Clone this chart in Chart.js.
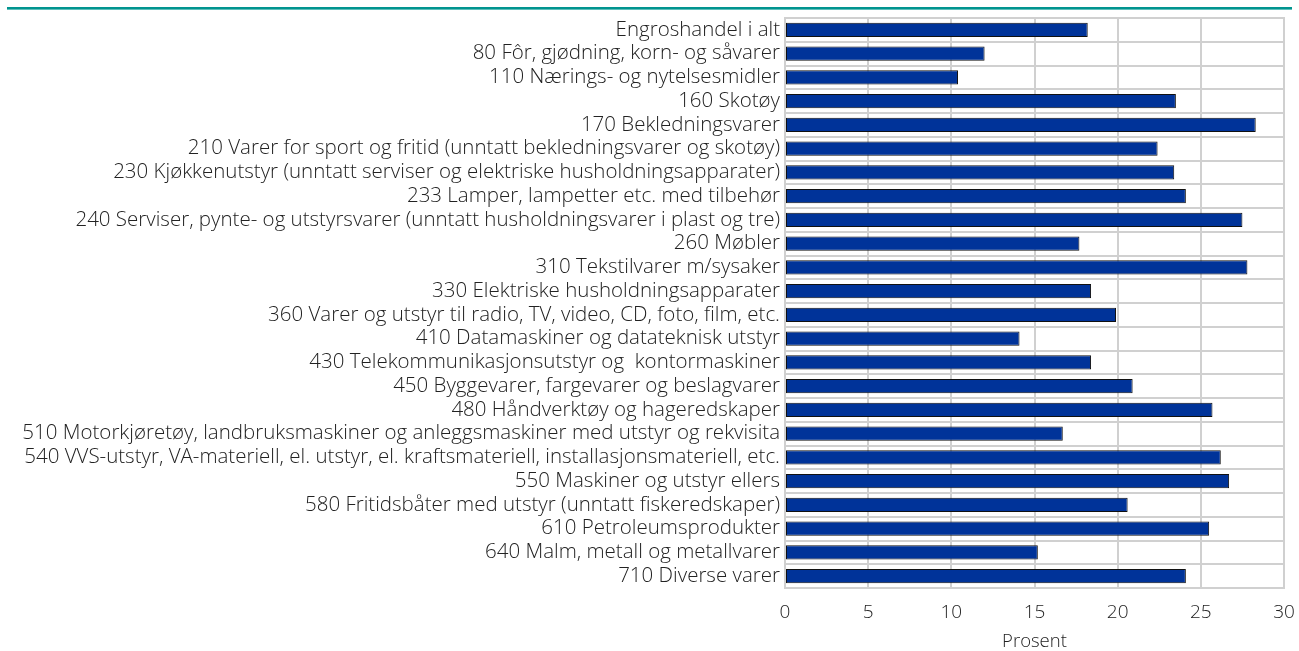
<!DOCTYPE html>
<html>
<head>
<meta charset="utf-8">
<script src="https://cdn.jsdelivr.net/npm/chart.js@4/dist/chart.umd.min.js"></script>
<style>
  html, body { margin: 0; padding: 0; background: #fff; }
  #wrap { position: relative; width: 1299px; height: 651px; }
  #topline { position: absolute; left: 7px; top: 7px; width: 1285px; height: 2px; background: #00948f; border-bottom: 1px solid #5fbfbb; }
  canvas { position: absolute; left: 0; top: 0; }
</style>
</head>
<body>
<div id="wrap">
  <div id="topline"></div>
  <canvas id="chart" width="1299" height="651"></canvas>
</div>
<script>
// Categories (varegrupper)
const categories = [
  "Engroshandel i alt",
  "80 Fôr, gjødning, korn- og såvarer",
  "110 Nærings- og nytelsesmidler",
  "160 Skotøy",
  "170 Bekledningsvarer",
  "210 Varer for sport og fritid (unntatt bekledningsvarer og skotøy)",
  "230 Kjøkkenutstyr (unntatt serviser og elektriske husholdningsapparater)",
  "233 Lamper, lampetter etc. med tilbehør",
  "240 Serviser, pynte- og utstyrsvarer (unntatt husholdningsvarer i plast og tre)",
  "260 Møbler",
  "310 Tekstilvarer m/sysaker",
  "330 Elektriske husholdningsapparater",
  "360 Varer og utstyr til radio, TV, video, CD, foto, film, etc.",
  "410 Datamaskiner og datateknisk utstyr",
  "430 Telekommunikasjonsutstyr og  kontormaskiner",
  "450 Byggevarer, fargevarer og beslagvarer",
  "480 Håndverktøy og hageredskaper",
  "510 Motorkjøretøy, landbruksmaskiner og anleggsmaskiner med utstyr og rekvisita",
  "540 VVS-utstyr, VA-materiell, el. utstyr, el. kraftsmateriell, installasjonsmateriell, etc.",
  "550 Maskiner og utstyr ellers",
  "580 Fritidsbåter med utstyr (unntatt fiskeredskaper)",
  "610 Petroleumsprodukter",
  "640 Malm, metall og metallvarer",
  "710 Diverse varer"
];

// Prosent
const values = [
  18.2, 12.0, 10.4, 23.5, 28.3, 22.4, 23.4, 24.1, 27.5, 17.7, 27.8, 18.4,
  19.9, 14.1, 18.4, 20.9, 25.7, 16.7, 26.2, 26.7, 20.6, 25.5, 15.2, 24.1
];

const xTicks = [0, 5, 10, 15, 20, 25, 30];
const xTitle = "Prosent";

const fontFamily = "'Open Sans', 'DejaVu Sans', sans-serif";
const gridColor = "#d0d0d0";
const textColor = "#222";

const ctx = document.getElementById("chart").getContext("2d");

new Chart(ctx, {
  type: "bar",
  data: {
    labels: categories,
    datasets: [{
      data: values,
      backgroundColor: "#003399",
      borderColor: "#111111",
      borderWidth: 1,
      borderSkipped: false,
      categoryPercentage: 1.0,
      barPercentage: 0.6
    }]
  },
  options: {
    indexAxis: "y",
    responsive: false,
    animation: false,
    layout: { padding: { top: 18, right: 0, left: 0, bottom: 0 } },
    plugins: {
      legend: { display: false },
      tooltip: { enabled: false }
    },
    scales: {
      x: {
        min: xTicks[0],
        max: xTicks[xTicks.length - 1],
        afterBuildTicks: (scale) => { scale.ticks = xTicks.map(v => ({ value: v })); },
        grid: { color: gridColor, lineWidth: 2, drawTicks: false },
        border: { display: false },
        ticks: { color: textColor, font: { family: fontFamily, size: 19, weight: 300 }, padding: 13 },
        title: { display: true, text: xTitle, color: textColor, font: { family: fontFamily, size: 18.5, weight: 300, lineHeight: 1.0 }, padding: { top: 0, bottom: 0 } },
        afterFit: (scale) => {
          scale.height = 63;
          scale.paddingRight = 15;
          scale.paddingLeft = 0;
        }
      },
      y: {
        grid: { color: gridColor, lineWidth: 2, offset: true, drawTicks: false },
        border: { color: gridColor, width: 2 },
        ticks: { color: textColor, font: { family: fontFamily, size: 20.5, weight: 300 }, padding: 5, autoSkip: false },
        afterFit: (scale) => { scale.width = 785; }
      }
    }
  },
  plugins: [{
    id: "frame",
    afterDraw(chart) {
      const a = chart.chartArea;
      const c = chart.ctx;
      c.save();
      c.strokeStyle = gridColor;
      c.lineWidth = 2;
      c.strokeRect(a.left, a.top, a.right - a.left, a.bottom - a.top);
      c.restore();
    }
  }]
});
</script>
</body>
</html>
